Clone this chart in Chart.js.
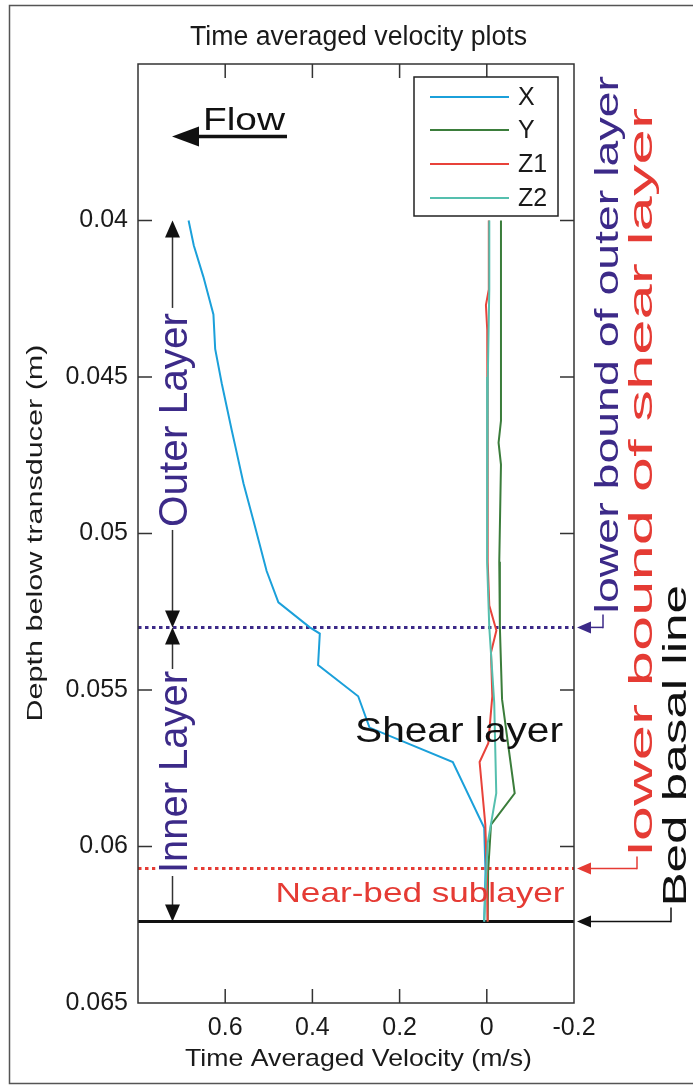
<!DOCTYPE html>
<html>
<head>
<meta charset="utf-8">
<script src="https://cdn.jsdelivr.net/npm/chart.js@4/dist/chart.umd.min.js"></script>
<style>
  html, body { margin: 0; padding: 0; background: #fff; }
  canvas { display: block; }
</style>
</head>
<body>
<canvas id="c" width="693" height="1086"></canvas>
<script>
// Time-averaged velocity profiles (m/s) against depth below the transducer (m)
const seriesNames = ['X', 'Y', 'Z1', 'Z2'];

const depthX = [0.0400, 0.0408, 0.0418, 0.0430, 0.0441, 0.0452, 0.0467, 0.0472, 0.0484, 0.0496, 0.0512,
                0.0522, 0.0530, 0.0532, 0.0542, 0.0552, 0.0562, 0.0573, 0.0594, 0.0608, 0.0624];
const velX   = [0.684, 0.672, 0.650, 0.627, 0.623, 0.608, 0.585, 0.577, 0.558, 0.535, 0.505,
                0.478, 0.406, 0.383, 0.387, 0.295, 0.269, 0.078, 0.006, 0.003, 0.006];

const depthY = [0.0400, 0.0464, 0.0471, 0.0478, 0.0509, 0.0530, 0.0553, 0.0583, 0.0593, 0.0608, 0.0624];
const velY   = [-0.0325, -0.0325, -0.027, -0.0325, -0.0286, -0.030, -0.035, -0.064, -0.0096, -0.003, -0.002];

const depthZ1 = [0.0400, 0.0422, 0.0427, 0.0435, 0.0509, 0.0523, 0.0531, 0.0538, 0.0552, 0.0567, 0.0573,
                 0.0593, 0.0608, 0.0624];
const velZ1   = [-0.0046, -0.0046, 0.002, -0.001, -0.002, -0.0057, -0.022, -0.0096, -0.0126, -0.0034, 0.0165,
                 0.0034, 0.0, -0.002];

const depthZ2 = [0.0400, 0.0422, 0.0450, 0.0509, 0.0530, 0.0554, 0.0583, 0.0599, 0.0611, 0.0624];
const velZ2   = [-0.0057, -0.0057, -0.0023, -0.0007, -0.0057, -0.017, -0.0217, -0.002, 0.002, 0.006];

// axis ticks
const xTicks = [0.6, 0.4, 0.2, 0, -0.2];
const xTickLabels = ['0.6', '0.4', '0.2', '0', '-0.2'];
const yTicks = [0.04, 0.045, 0.05, 0.055, 0.06, 0.065];
const yTickLabels = ['0.04', '0.045', '0.05', '0.055', '0.06', '0.065'];

// layer boundaries (depth, m)
const outerTop = 0.040;
const outerLayerBound = 0.0530;
const shearLayerBound = 0.0607;
const bedBasalLine = 0.0624;

const colors = { X: '#1ba0da', Y: '#3b7d3b', Z1: '#e8423a', Z2: '#55bfae' };
const PURPLE = '#3c2a88';
const RED = '#e53b34';
const FONT = '"Liberation Sans", Arial, Helvetica, sans-serif';

const pts = (v, d) => v.map((x, i) => ({ x: x, y: d[i] }));

// draw text centred on (x, baseline y), stretched to a given length along its reading direction
function fitText(ctx, str, x, y, size, color, len, rot) {
  ctx.save();
  ctx.translate(x, y);
  if (rot) ctx.rotate(rot);
  ctx.font = size + 'px ' + FONT;
  const w = ctx.measureText(str).width;
  ctx.scale(len / w, 1);
  ctx.fillStyle = color;
  ctx.textAlign = 'center';
  ctx.textBaseline = 'alphabetic';
  ctx.fillText(str, 0, 0);
  ctx.restore();
}

function head(ctx, tx, ty, ang, len, half, color) {
  ctx.save();
  ctx.translate(tx, ty);
  ctx.rotate(ang);
  ctx.beginPath();
  ctx.moveTo(0, 0);
  ctx.lineTo(len, -half);
  ctx.lineTo(len, half);
  ctx.closePath();
  ctx.fillStyle = color;
  ctx.fill();
  ctx.restore();
}

function seg(ctx, x1, y1, x2, y2, color, w, dash) {
  ctx.save();
  ctx.beginPath();
  ctx.moveTo(x1, y1);
  ctx.lineTo(x2, y2);
  ctx.strokeStyle = color;
  ctx.lineWidth = w;
  if (dash) ctx.setLineDash(dash);
  ctx.stroke();
  ctx.restore();
}

const layers = {
  id: 'layers',
  beforeDatasetsDraw(chart) {
    const { ctx, chartArea: a, scales: { y } } = chart;
    const yo = y.getPixelForValue(outerLayerBound);
    const ys = y.getPixelForValue(shearLayerBound);
    const yb = y.getPixelForValue(bedBasalLine);
    seg(ctx, a.left, yo, a.right, yo, PURPLE, 3, [3.5, 3.5]);
    seg(ctx, a.left, ys, a.right, ys, RED, 3, [3.5, 3.5]);
    seg(ctx, a.left, yb, a.right, yb, '#111', 3);
  },
  afterDatasetsDraw(chart) {
    const { ctx, chartArea: a, scales: { y } } = chart;
    const yt = y.getPixelForValue(outerTop);
    const yo = y.getPixelForValue(outerLayerBound);
    const ys = y.getPixelForValue(shearLayerBound);
    const yb = y.getPixelForValue(bedBasalLine);
    const lx = a.left + 34.5;
    const dark = '#333';

    // Outer layer span
    const oc = (yt + yo) / 2 - 4, ol = 214;
    seg(ctx, lx, yt + 10, lx, oc - ol / 2 - 5, dark, 1.5);
    seg(ctx, lx, oc + ol / 2 + 3, lx, yo - 10, dark, 1.5);
    head(ctx, lx, yt, Math.PI / 2, 17, 7.5, '#111');
    head(ctx, lx, yo, -Math.PI / 2, 17, 7.5, '#111');
    fitText(ctx, 'Outer Layer', lx + 14.5, oc, 40, PURPLE, ol, -Math.PI / 2);

    // Inner layer span
    const ic = (yo + yb) / 2 - 2.5, il = 202;
    ctx.fillStyle = '#fff';
    ctx.fillRect(lx - 17, ic - il / 2 - 2, 36, il + 4);
    seg(ctx, lx, yo + 10, lx, ic - il / 2 - 2, dark, 1.5);
    seg(ctx, lx, ic + il / 2 + 3, lx, yb - 10, dark, 1.5);
    head(ctx, lx, yo, Math.PI / 2, 17, 7.5, '#111');
    head(ctx, lx, yb, -Math.PI / 2, 17, 7.5, '#111');
    fitText(ctx, 'Inner Layer', lx + 14.5, ic, 40, PURPLE, il, -Math.PI / 2);

    // region names
    fitText(ctx, 'Shear layer', 459, 742, 35, '#111', 208);
    fitText(ctx, 'Near-bed sublayer', 420, 902, 28, RED, 289);

    // boundary call-outs on the right
    const tip = a.right + 3;
    const callouts = [
      { y: yo, cx: 603, bx: 618, c: yo - 13, start: yo - 14, end: 76, size: 34, text: 'lower bound of outer layer', color: PURPLE },
      { y: ys, cx: 637, bx: 652, c: ys - 12, start: ys - 13, end: 108, size: 34, text: 'lower bound of shear layer', color: RED },
      { y: yb, cx: 671, bx: 686, c: yb - 14, start: yb - 15, end: 585, size: 34, text: 'Bed basal line', color: '#111' }
    ];
    callouts.forEach(o => {
      seg(ctx, tip + 10, o.y, o.cx, o.y, o.color, 1.5);
      seg(ctx, o.cx, o.y + 0.75, o.cx, o.c, o.color, 1.5);
      head(ctx, tip, o.y, 0, 14, 6, o.color);
      fitText(ctx, o.text, o.bx, (o.start + o.end) / 2, o.size, o.color, o.start - o.end, -Math.PI / 2);
    });
  },
  afterDraw(chart) {
    const { ctx, chartArea: a, scales: { x, y } } = chart;

    // axes box with inward ticks on all four sides
    ctx.save();
    ctx.strokeStyle = '#333';
    ctx.lineWidth = 1.5;
    ctx.strokeRect(a.left, a.top, a.right - a.left, a.bottom - a.top);
    ctx.beginPath();
    xTicks.forEach(v => {
      const px = x.getPixelForValue(v);
      if (px <= a.left + 1 || px >= a.right - 1) return;
      ctx.moveTo(px, a.bottom); ctx.lineTo(px, a.bottom - 14);
      ctx.moveTo(px, a.top); ctx.lineTo(px, a.top + 14);
    });
    yTicks.forEach(v => {
      const py = y.getPixelForValue(v);
      if (py <= a.top + 1 || py >= a.bottom - 1) return;
      ctx.moveTo(a.left, py); ctx.lineTo(a.left + 14, py);
      ctx.moveTo(a.right, py); ctx.lineTo(a.right - 14, py);
    });
    ctx.stroke();
    ctx.restore();

    // titles
    fitText(ctx, 'Time averaged velocity plots', 358.5, 45, 27, '#1a1a1a', 337);
    fitText(ctx, 'Time Averaged Velocity (m/s)', 358.5, 1066, 24, '#1a1a1a', 347);
    fitText(ctx, 'Depth below transducer (m)', 42, 533, 22, '#1a1a1a', 377, -Math.PI / 2);

    // flow direction
    seg(ctx, 195, 136.5, 287, 136.5, '#111', 3.5);
    head(ctx, 172, 136.5, 0, 27, 10, '#111');
    fitText(ctx, 'Flow', 244, 130, 31, '#111', 82);

    // legend
    ctx.save();
    ctx.fillStyle = '#fff';
    ctx.fillRect(414, 77, 144, 139);
    ctx.strokeStyle = '#222';
    ctx.lineWidth = 1.5;
    ctx.strokeRect(414, 77, 144, 139);
    const rows = [97, 130, 164, 198];
    seriesNames.forEach((n, i) => {
      seg(ctx, 430, rows[i], 509, rows[i], colors[n], 2);
      ctx.fillStyle = '#1a1a1a';
      ctx.font = '25px ' + FONT;
      ctx.textAlign = 'left';
      ctx.textBaseline = 'middle';
      ctx.fillText(n, 518, rows[i] + 1);
    });
    ctx.restore();

    // figure frame (open on the right)
    ctx.save();
    ctx.strokeStyle = '#555';
    ctx.lineWidth = 1.5;
    ctx.beginPath();
    ctx.moveTo(693, 5.5);
    ctx.lineTo(9.5, 5.5);
    ctx.lineTo(9.5, 1083.5);
    ctx.lineTo(693, 1083.5);
    ctx.stroke();
    ctx.restore();
  }
};

const mk = (name, v, d, order) => ({
  label: name,
  data: pts(v, d),
  showLine: true,
  borderColor: colors[name],
  backgroundColor: colors[name],
  borderWidth: 2,
  pointRadius: 0,
  tension: 0,
  order: order
});

new Chart(document.getElementById('c'), {
  type: 'scatter',
  data: {
    datasets: [
      mk('X', velX, depthX, 4),
      mk('Y', velY, depthY, 3),
      mk('Z1', velZ1, depthZ1, 2),
      mk('Z2', velZ2, depthZ2, 1)
    ]
  },
  options: {
    responsive: false,
    devicePixelRatio: 1,
    animation: false,
    layout: { padding: { top: 64, right: 119, bottom: 0, left: 0 } },
    plugins: { legend: { display: false }, tooltip: { enabled: false }, title: { display: false } },
    scales: {
      x: {
        type: 'linear',
        reverse: true,
        min: -0.2,
        max: 0.8,
        afterBuildTicks: s => { s.ticks = xTicks.map(v => ({ value: v })); },
        afterFit: s => { s.height = 83; },
        ticks: {
          callback: (v, i) => xTickLabels[i],
          font: { family: FONT, size: 25 },
          color: '#1a1a1a',
          padding: 10,
          maxRotation: 0,
          autoSkip: false
        },
        grid: { display: false, drawTicks: false },
        border: { display: false }
      },
      y: {
        type: 'linear',
        reverse: true,
        min: 0.035,
        max: 0.065,
        afterBuildTicks: s => { s.ticks = yTicks.map(v => ({ value: v })); },
        afterFit: s => { s.width = 138; },
        ticks: {
          callback: (v, i) => yTickLabels[i],
          font: { family: FONT, size: 25 },
          color: '#1a1a1a',
          padding: 10,
          autoSkip: false
        },
        grid: { display: false, drawTicks: false },
        border: { display: false }
      }
    }
  },
  plugins: [layers]
});
</script>
</body>
</html>
